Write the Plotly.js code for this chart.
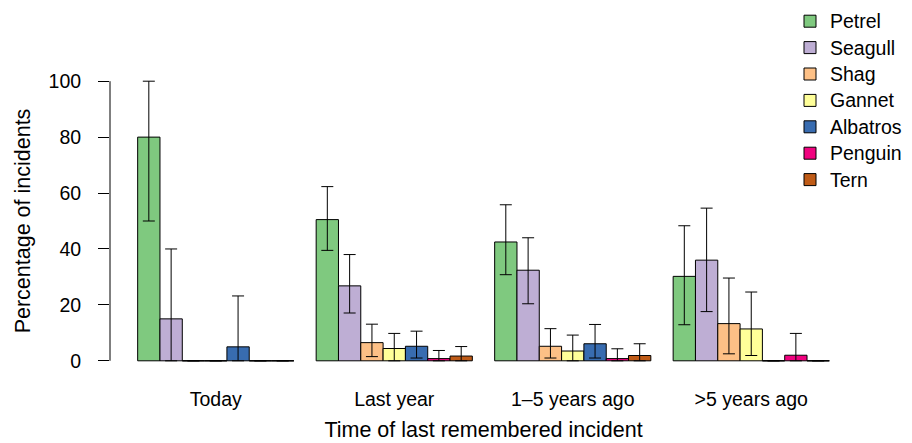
<!DOCTYPE html>
<html>
<head>
<meta charset="utf-8">
<script src="https://cdn.plot.ly/plotly-3.0.1.min.js"></script>
<style>
  html, body { margin: 0; padding: 0; background: #ffffff; }
  #chart { width: 912px; height: 443px; }
  /* legend labels drawn a little larger than the row spacing font */
  #chart .legend .legendtext { font-size: 19.5px !important; }
</style>
</head>
<body>
<div id="chart"></div>
<script>
// Time since the last remembered incident, by bird species (percent of incidents)
const periods = ["Today", "Last year", "1\u20135 years ago", ">5 years ago"];
const species = ["Petrel", "Seagull", "Shag", "Gannet", "Albatros", "Penguin", "Tern"];
const speciesColors = ["#7FC97F", "#BEAED4", "#FDC086", "#FFFF99", "#386CB0", "#F0027F", "#BF5B17"];

// percentage per species, one entry per period
const petrel   = [80, 50.5, 42.5, 30.2];
const seagull  = [15, 26.8, 32.4, 36.0];
const shag     = [0, 6.5, 5.2, 13.3];
const gannet   = [0, 4.4, 3.5, 11.4];
const albatros = [5, 5.2, 6.1, 0];
const penguin  = [0, 0.8, 0.8, 2.0];
const tern     = [0, 1.7, 1.9, 0];

// upper and lower limits of the error bars
const petrelHi   = [100, 62.3, 55.8, 48.3];
const petrelLo   = [50, 39.5, 30.8, 12.9];
const seagullHi  = [40, 38.0, 44.0, 54.6];
const seagullLo  = [0, 17.1, 20.4, 17.6];
const shagHi     = [0, 13.1, 11.5, 29.6];
const shagLo     = [0, 1.5, 1.0, 2.5];
const gannetHi   = [0, 9.8, 9.2, 24.6];
const gannetLo   = [0, 0, 0, 1.9];
const albatrosHi = [23.2, 10.6, 13.0, 0];
const albatrosLo = [0, 1.0, 1.0, 0];
const penguinHi  = [0, 3.7, 4.3, 9.8];
const penguinLo  = [0, 0, 0, 0];
const ternHi     = [0, 5.1, 6.1, 0];
const ternLo     = [0, 0, 0, 0];

const yTicks = [0, 20, 40, 60, 80, 100];

const values = [petrel, seagull, shag, gannet, albatros, penguin, tern];
const highs  = [petrelHi, seagullHi, shagHi, gannetHi, albatrosHi, penguinHi, ternHi];
const lows   = [petrelLo, seagullLo, shagLo, gannetLo, albatrosLo, penguinLo, ternLo];

const FONT = "Liberation Sans, Arial, Helvetica, sans-serif";
const TICK_FS = 19.5;
const TITLE_FS = 21.5;
const SLOTS = species.length + 1;              // bars plus one empty slot per group
const GAP = 1 / SLOTS;
const slot = (1 - GAP) / species.length;       // width of a single bar in category units

const traces = species.map((name, j) => {
  const hasErr = (i) => !(values[j][i] === 0 && highs[j][i] === 0);
  return {
    type: "bar",
    name: name,
    x: periods,
    y: values[j],
    marker: { color: speciesColors[j], line: { color: "#000000", width: 1 } },
    error_y: {
      type: "data",
      symmetric: false,
      array: values[j].map((v, i) => hasErr(i) ? highs[j][i] - v : null),
      arrayminus: values[j].map((v, i) => hasErr(i) ? v - lows[j][i] : null),
      color: "#000000",
      thickness: 1,
      width: 6
    },
    hoverinfo: "name+y"
  };
});

// outlines of zero-height bars sit on the baseline
const shapes = [];
values.forEach((series, j) => {
  series.forEach((v, i) => {
    if (v === 0) {
      const x0 = i - (1 - GAP) / 2 + j * slot;
      shapes.push({
        type: "line", xref: "x", yref: "y",
        x0: x0, x1: x0 + slot, y0: 0, y1: 0,
        line: { color: "#000000", width: 1 }
      });
    }
  });
});
// y axis line spanning only the tick range
shapes.push({
  type: "line", xref: "paper", yref: "y",
  x0: 0, x1: 0, y0: Math.min(...yTicks), y1: Math.max(...yTicks),
  line: { color: "#000000", width: 1 }
});

// 4% padding around the span from the first to the last bar, in category units
const barSpan = SLOTS * periods.length - 1;
const pad = (0.04 * barSpan - 0.5) / SLOTS;

const layout = {
  width: 912,
  height: 443,
  paper_bgcolor: "#ffffff",
  plot_bgcolor: "#ffffff",
  margin: { l: 110, r: 55, t: 70, b: 71, autoexpand: false },
  font: { family: FONT, size: TICK_FS, color: "#000000" },
  barmode: "group",
  bargap: GAP,
  bargroupgap: 0,
  showlegend: true,
  shapes: shapes,
  xaxis: {
    type: "category",
    range: [-0.5 - pad, periods.length - 0.5 + pad],
    showline: false,
    showgrid: false,
    zeroline: false,
    ticks: "",
    ticklabelstandoff: 13,
    tickfont: { family: FONT, size: TICK_FS, color: "#000000" },
    title: { text: "Time of last remembered incident", font: { family: FONT, size: TITLE_FS, color: "#000000" }, standoff: 13 }
  },
  yaxis: {
    range: [-4, 104],
    tickvals: yTicks,
    ticktext: yTicks.map(String),
    showline: false,
    showgrid: false,
    zeroline: false,
    ticks: "outside",
    ticklen: 11,
    tickwidth: 1,
    tickcolor: "#000000",
    ticklabelstandoff: 13,
    tickfont: { family: FONT, size: TICK_FS, color: "#000000" },
    title: { text: "Percentage of incidents", font: { family: FONT, size: TITLE_FS, color: "#000000" }, standoff: 12 }
  },
  legend: {
    xref: "container", yref: "container",
    x: 790 / 912, y: 1 - 3 / 443,
    xanchor: "left", yanchor: "top",
    bgcolor: "rgba(0,0,0,0)",
    borderwidth: 0,
    font: { family: FONT, size: 18, color: "#000000" },
    traceorder: "normal",
    itemclick: false,
    itemdoubleclick: false
  }
};

Plotly.newPlot("chart", traces, layout, { displayModeBar: false, staticPlot: true });
</script>
</body>
</html>
